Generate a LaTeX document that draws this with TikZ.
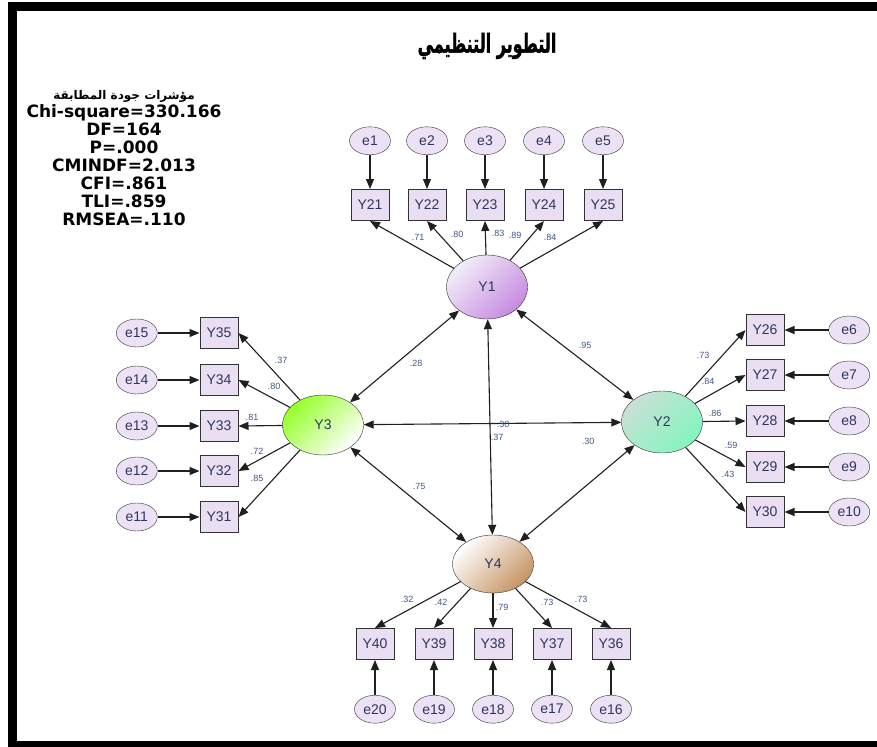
\documentclass[tikz,border=0pt]{standalone}
\usepackage{fontspec}
\setmainfont{Liberation Sans}
\newfontfamily\arabicfont[Script=Arabic]{DejaVu Sans}
\newfontfamily\titlefont[Script=Arabic,UprightFont=* Bold,FakeBold=1.6]{DejaVu Sans}
\newfontfamily\fitfont{DejaVu Sans}
\TeXXeTstate=1
\usepackage{xcolor}
\usepackage{tikz}
\usetikzlibrary{arrows.meta,positioning,shapes.geometric}

\definecolor{obsfill}{RGB}{234,222,242}
\definecolor{errfill}{RGB}{237,225,245}
\definecolor{edgegray}{RGB}{50,50,50}
\definecolor{txtblue}{RGB}{45,55,95}
\definecolor{lblblue}{RGB}{65,85,135}
\definecolor{yonea}{RGB}{242,238,248}
\definecolor{yoneb}{RGB}{198,138,226}
\definecolor{ytwoa}{RGB}{200,224,214}
\definecolor{ytwob}{RGB}{132,246,190}
\definecolor{ythreea}{RGB}{150,255,40}
\definecolor{yfourb}{RGB}{198,148,100}

\begin{document}
\begin{tikzpicture}[
  x=1pt,y=-1pt,
  every node/.style={font=\fontsize{14}{16}\selectfont,text=txtblue},
  ind/.style={draw=edgegray,fill=obsfill,line width=1pt,minimum width=38pt,minimum height=31pt,inner sep=0pt},
  err/.style={ellipse,draw=edgegray,fill=errfill,minimum width=41pt,minimum height=28pt,inner sep=0pt},
  lat/.style={ellipse,draw=edgegray,minimum width=81pt,minimum height=62pt,inner sep=0pt},
  arr/.style={-{Triangle[length=10pt,width=8pt]},line width=1.1pt,draw=black!88},
  cov/.style={{Triangle[length=10pt,width=8pt]}-{Triangle[length=10pt,width=8pt]},line width=1.1pt,draw=black!88},
  lbl/.style={font=\fontsize{9}{10}\selectfont,text=lblblue,inner sep=0pt}
]
\clip (0,0) rectangle (877,746);
\draw[line width=9pt] (900,6.5) -- (12.5,6.5) -- (12.5,745.5) -- (900,745.5);

% title and fit indices
\node[font=\titlefont\fontsize{20}{26}\selectfont,text=black] (title) at (487,46)
  {\scalebox{0.8}[1.3]{\beginR التطوير التنظيمي\endR}};
\node[font=\fitfont\bfseries\fontsize{17}{18}\selectfont,text=black,align=center] (gof) at (124,158)
  {{\arabicfont\fontsize{12}{18}\selectfont\beginR مؤشرات جودة المطابقة\endR}\\Chi-square=330.166\\DF=164\\P=.000\\CMINDF=2.013\\CFI=.861\\TLI=.859\\RMSEA=.110};

% latent factors
\node[lat,minimum height=64pt,top color=yonea,bottom color=yoneb,shading angle=45] (Y1) at (487,287) {Y1};
\node[lat,top color=ytwoa,bottom color=ytwob,shading angle=45] (Y2) at (662,422) {Y2};
\node[lat,minimum height=60pt,top color=ythreea,bottom color=white,shading angle=45] (Y3) at (323,425) {Y3};
\node[lat,minimum height=58pt,top color=white,bottom color=yfourb,shading angle=45] (Y4) at (493,564) {Y4};

% indicators of Y1
\node[ind] (Y21) at (370,205) {Y21};
\node[ind] (Y22) at (427,205) {Y22};
\node[ind] (Y23) at (485,205) {Y23};
\node[ind] (Y24) at (544,205) {Y24};
\node[ind] (Y25) at (603,205) {Y25};
\node[err,above=34pt of Y21] (e1) {e1};
\node[err,above=34pt of Y22] (e2) {e2};
\node[err,above=34pt of Y23] (e3) {e3};
\node[err,above=34pt of Y24] (e4) {e4};
\node[err,above=34pt of Y25] (e5) {e5};

% indicators of Y2
\node[ind] (Y26) at (765,330) {Y26};
\node[ind] (Y27) at (765,375) {Y27};
\node[ind] (Y28) at (765,421) {Y28};
\node[ind] (Y29) at (765,467) {Y29};
\node[ind] (Y30) at (765,512) {Y30};
\node[err,right=44pt of Y26] (e6) {e6};
\node[err,right=44pt of Y27] (e7) {e7};
\node[err,right=44pt of Y28] (e8) {e8};
\node[err,right=44pt of Y29] (e9) {e9};
\node[err,right=44pt of Y30] (e10) {e10};

% indicators of Y3
\node[ind] (Y35) at (219,333) {Y35};
\node[ind] (Y34) at (219,380) {Y34};
\node[ind] (Y33) at (219,426) {Y33};
\node[ind] (Y32) at (219,471) {Y32};
\node[ind] (Y31) at (219,517) {Y31};
\node[err,left=42pt of Y35] (e15) {e15};
\node[err,left=42pt of Y34] (e14) {e14};
\node[err,left=42pt of Y33] (e13) {e13};
\node[err,left=42pt of Y32] (e12) {e12};
\node[err,left=42pt of Y31] (e11) {e11};

% indicators of Y4
\node[ind] (Y40) at (375,644) {Y40};
\node[ind] (Y39) at (434,644) {Y39};
\node[ind] (Y38) at (493,644) {Y38};
\node[ind] (Y37) at (552,644) {Y37};
\node[ind] (Y36) at (611,644) {Y36};
\node[err,below=35pt of Y40] (e20) {e20};
\node[err,below=35pt of Y39] (e19) {e19};
\node[err,below=35pt of Y38] (e18) {e18};
\node[err,below=35pt of Y37] (e17) {e17};
\node[err,below=35pt of Y36] (e16) {e16};

% error terms
\draw[arr] (e1)--(Y21); \draw[arr] (e2)--(Y22); \draw[arr] (e3)--(Y23);
\draw[arr] (e4)--(Y24); \draw[arr] (e5)--(Y25);
\draw[arr] (e6)--(Y26); \draw[arr] (e7)--(Y27); \draw[arr] (e8)--(Y28);
\draw[arr] (e9)--(Y29); \draw[arr] (e10)--(Y30);
\draw[arr] (e15)--(Y35); \draw[arr] (e14)--(Y34); \draw[arr] (e13)--(Y33);
\draw[arr] (e12)--(Y32); \draw[arr] (e11)--(Y31);
\draw[arr] (e20)--(Y40); \draw[arr] (e19)--(Y39); \draw[arr] (e18)--(Y38);
\draw[arr] (e17)--(Y37); \draw[arr] (e16)--(Y36);

% loadings
\draw[arr] (Y1)--(Y21.south); \draw[arr] (Y1)--(Y22.south); \draw[arr] (Y1)--(Y23.south);
\draw[arr] (Y1)--(Y24.south); \draw[arr] (Y1)--(Y25.south);
\draw[arr] (Y2)--(Y26.west); \draw[arr] (Y2)--(Y27.west); \draw[arr] (Y2)--(Y28.west);
\draw[arr] (Y2)--(Y29.west); \draw[arr] (Y2)--(Y30.west);
\draw[arr] (Y3)--(Y35.east); \draw[arr] (Y3)--(Y34.east); \draw[arr] (Y3)--(Y33.east);
\draw[arr] (Y3)--(Y32.east); \draw[arr] (Y3)--(Y31.east);
\draw[arr] (Y4)--(Y40.north); \draw[arr] (Y4)--(Y39.north); \draw[arr] (Y4)--(Y38.north);
\draw[arr] (Y4)--(Y37.north); \draw[arr] (Y4)--(Y36.north);

% correlations between factors
\draw[cov] (Y1)--(Y3);
\draw[cov] (Y1)--(Y2);
\draw[cov] (Y1)--(Y4);
\draw[cov] (Y3)--(Y2);
\draw[cov] (Y3)--(Y4);
\draw[cov] (Y4)--(Y2);

% estimates
\node[lbl] (l21) at (418,237) {.71};
\node[lbl] (l22) at (457,234) {.80};
\node[lbl] (l23) at (498,233) {.83};
\node[lbl] (l24) at (515,235) {.89};
\node[lbl] (l25) at (550,237) {.84};
\node[lbl] (l26) at (703,355) {.73};
\node[lbl] (l27) at (708,381) {.84};
\node[lbl] (l28) at (715,413) {.86};
\node[lbl] (l29) at (731,445) {.59};
\node[lbl] (l30) at (728,474) {.43};
\node[lbl] (l35) at (281,360) {.37};
\node[lbl] (l34) at (274,386) {.80};
\node[lbl] (l33) at (252,417) {.81};
\node[lbl] (l32) at (257,451) {.72};
\node[lbl] (l31) at (257,478) {.85};
\node[lbl] (l40) at (407,599) {.32};
\node[lbl] (l39) at (441,602) {.42};
\node[lbl] (l38) at (502,607) {.79};
\node[lbl] (l37) at (547,602) {.73};
\node[lbl] (l36) at (581,599) {.73};
\node[lbl] (r13) at (416,363) {.28};
\node[lbl] (r12) at (585,345) {.95};
\node[lbl] (r32) at (503,424) {.30};
\node[lbl] (r14) at (497,437) {.37};
\node[lbl] (r34) at (419,486) {.75};
\node[lbl] (r42) at (588,441) {.30};
\end{tikzpicture}
\end{document}
